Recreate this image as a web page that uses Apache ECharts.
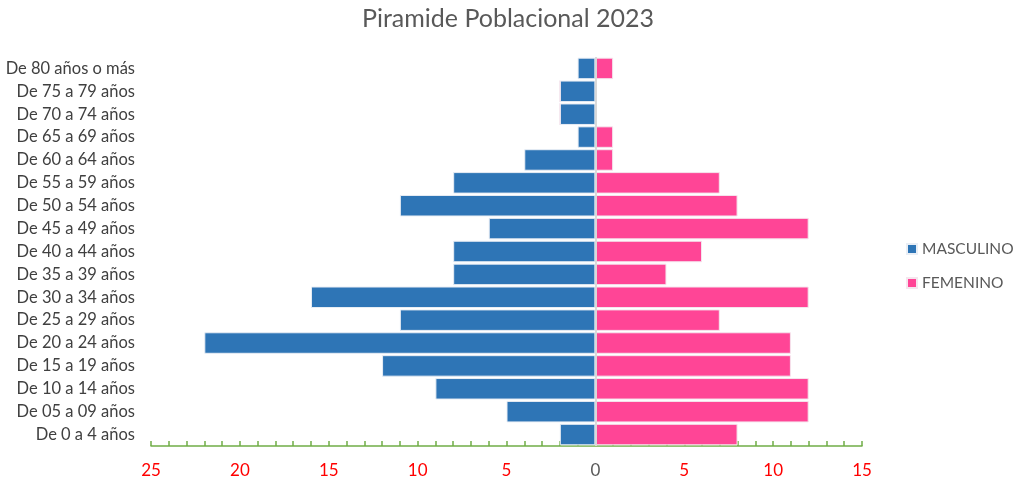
<!DOCTYPE html>
<html><head><meta charset="utf-8">
<script src="https://cdn.jsdelivr.net/npm/echarts@6/dist/echarts.min.js"></script>
<style>html,body{margin:0;padding:0;background:#fff}#c{width:1016px;height:483px}</style>
</head><body><div id="c"></div>
<script>
const categories = ["De 0 a 4 años","De 05 a 09 años","De 10 a 14 años","De 15 a 19 años","De 20 a 24 años","De 25 a 29 años","De 30 a 34 años","De 35 a 39 años","De 40 a 44 años","De 45 a 49 años","De 50 a 54 años","De 55 a 59 años","De 60 a 64 años","De 65 a 69 años","De 70 a 74 años","De 75 a 79 años","De 80 años o más"];
const masculino = [2,5,9,12,22,11,16,8,8,6,11,8,4,1,2,2,1];
const femenino = [8,12,12,11,11,7,12,4,6,12,8,7,1,1,0,0,1];
const xLabelStep = 5;
const FONT = "Lato, 'Open Sans', sans-serif";
const chart = echarts.init(document.getElementById('c'));
chart.setOption({
  animation: false,
  title: {text: 'Piramide Poblacional 2023', left: 'center', top: 1,
    textStyle: {fontFamily: FONT, fontSize: 25, fontWeight: 'normal', color: '#595959'}},
  legend: {orient: 'vertical', left: 901, top: 236, itemGap: 18, itemWidth: 10, itemHeight: 10, icon: 'rect',
    textStyle: {fontFamily: FONT, fontSize: 15.5, color: '#595959'}, data: ['MASCULINO','FEMENINO']},
  grid: {left: 151, right: 154, top: 57, bottom: 37},
  xAxis: {type: 'value', min: -25, max: 15, interval: 1,
    axisLine: {show: true, lineStyle: {color: '#70ad47', width: 1.5}},
    axisTick: {show: true, inside: true, length: 5, lineStyle: {color: '#70ad47', width: 1.5}},
    splitLine: {show: false},
    axisLabel: {margin: 16, fontFamily: FONT, fontSize: 17, showMinLabel: true, showMaxLabel: true,
      formatter: v => (v % xLabelStep === 0 ? String(Math.abs(v)) : ''),
      color: v => (Number(v) === 0 ? '#595959' : '#ff0000')}
  },
  yAxis: {type: 'category', data: categories,
    axisLine: {show: false}, axisTick: {show: false},
    axisLabel: {margin: 16, fontFamily: FONT, fontSize: 16.5, color: '#404040'}},
  series: [
    {name: 'MASCULINO', type: 'bar', stack: 'p', barCategoryGap: '6%',
      data: masculino.map(v => -v),
      itemStyle: {color: '#2e75b6', borderColor: '#e9eef5', borderWidth: 1},
      markLine: {silent: true, symbol: 'none', label: {show: false},
        lineStyle: {color: '#d9d9d9', width: 2, type: 'solid'}, data: [{xAxis: 0}]}},
    {name: 'FEMENINO', type: 'bar', stack: 'p', barCategoryGap: '6%',
      data: femenino,
      itemStyle: {color: '#ff4596', borderColor: '#f5e6ee', borderWidth: 1}}
  ]
});
</script></body></html>
